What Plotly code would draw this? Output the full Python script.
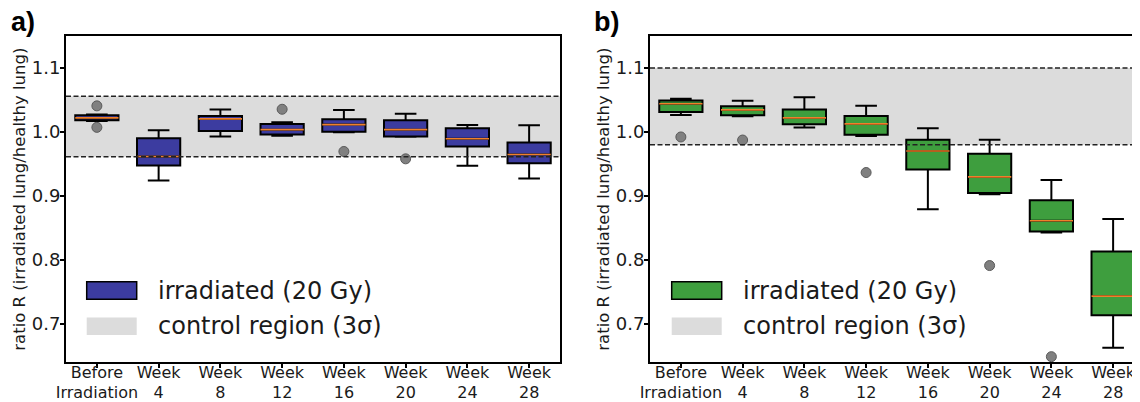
import plotly.graph_objects as go

# page body has an 8px margin, so the figure is sized to fit the window
OFF = 8
W, H = 1140 - OFF, 402 - OFF

# ---------------- data ----------------
categories = ["Before<br>Irradiation", "Week<br>4", "Week<br>8", "Week<br>12",
              "Week<br>16", "Week<br>20", "Week<br>24", "Week<br>28"]
positions = [0, 1, 2, 3, 4, 5, 6, 7]

# panel a (blue)
a_q1 = [1.0182, 0.9476, 1.0016, 0.9962, 1.0005, 0.9931, 0.9774, 0.9513]
a_median = [1.0220, 0.9617, 1.0204, 1.0036, 1.0115, 1.0036, 0.9895, 0.9648]
a_q3 = [1.0261, 0.9900, 1.0251, 1.0126, 1.0198, 1.0182, 1.0057, 0.9837]
a_low = [1.0173, 0.9240, 0.9931, 0.9942, 0.9994, 0.9926, 0.9471, 0.9272]
a_high = [1.0272, 1.0025, 1.0350, 1.0151, 1.0345, 1.0283, 1.0110, 1.0104]
a_out_x = [0, 0, 3, 4, 5]
a_out_y = [1.0408, 1.0072, 1.0355, 0.9695, 0.9580]
a_band = [0.9612, 1.0559]

# panel b (green)
b_q1 = [1.0314, 1.0261, 1.0119, 0.9958, 0.9413, 0.9047, 0.8446, 0.7137]
b_median = [1.0440, 1.0345, 1.0220, 1.0126, 0.9702, 0.9298, 0.8612, 0.7435]
b_q3 = [1.0491, 1.0402, 1.0350, 1.0251, 0.9879, 0.9659, 0.8933, 0.8132]
b_low = [1.0267, 1.0245, 1.0068, 0.9937, 0.8791, 0.9027, 0.8430, 0.6629]
b_high = [1.0518, 1.0487, 1.0543, 1.0408, 1.0057, 0.9879, 0.9251, 0.8639]
b_out_x = [0, 1, 3, 5, 6]
b_out_y = [0.9922, 0.9874, 0.9366, 0.7912, 0.6488]
b_band = [0.9801, 1.0998]

y_ticks = [0.7, 0.8, 0.9, 1.0, 1.1]
y_ticktext = ["0.7", "0.8", "0.9", "1.0", "1.1"]
legend_labels = ["irradiated (20 Gy)", "control region (3σ)"]
panel_labels = ["a)", "b)"]
y_title = "ratio R (irradiated lung/healthy lung)"

# ---------------- styles ----------------
FONT = "DejaVu Sans"
TXT = "#1a1a1a"
BLUE = "#3c3ca0"
GREEN = "#3e9e3e"
BAND = "#dcdcdc"
MED = "#f0802a"


def fx(px):
    return (px - OFF) / W


def fy(py):
    return 1 - (py - OFF) / H


fig = go.Figure()


def add_panel(xa, ya, q1, med, q3, lo, hi, ox, oy, color):
    fig.add_trace(go.Box(
        x=positions, q1=q1, median=med, q3=q3, lowerfence=lo, upperfence=hi,
        width=0.7, whiskerwidth=0.5, fillcolor=color,
        line=dict(color="black", width=2), boxpoints=False,
        xaxis=xa, yaxis=ya, showlegend=False))
    fig.add_trace(go.Box(
        x=positions, q1=med, median=med, q3=med, lowerfence=med, upperfence=med,
        width=0.7, whiskerwidth=0, fillcolor="rgba(0,0,0,0)",
        line=dict(color=MED, width=1.6), boxpoints=False, hoverinfo="skip",
        xaxis=xa, yaxis=ya, showlegend=False))
    fig.add_trace(go.Scatter(
        x=ox, y=oy, mode="markers",
        marker=dict(size=10, color="#808080", line=dict(color="#5a5a5a", width=1)),
        xaxis=xa, yaxis=ya, showlegend=False))


add_panel("x", "y", a_q1, a_median, a_q3, a_low, a_high, a_out_x, a_out_y, BLUE)
add_panel("x2", "y2", b_q1, b_median, b_q3, b_low, b_high, b_out_x, b_out_y, GREEN)

# control bands and dashed limits
for xr, yr, band in (("x domain", "y", a_band), ("x2 domain", "y2", b_band)):
    fig.add_shape(type="rect", xref=xr, yref=yr, x0=0, x1=1, y0=band[0], y1=band[1],
                  fillcolor=BAND, line=dict(width=0), layer="below")
    for v in band:
        fig.add_shape(type="line", xref=xr, yref=yr, x0=0, x1=1, y0=v, y1=v,
                      line=dict(color="#222", width=1.5, dash="5px,2.5px"), layer="above")

y_dom = [fy(362.3), fy(36)]
axis_common = dict(showline=True, linewidth=2, linecolor="black", showgrid=False,
                   zeroline=False, ticks="outside", ticklen=4, tickwidth=1.5,
                   tickcolor="black", automargin=False)
xcommon = dict(axis_common, tickvals=positions, ticktext=categories, tickangle=0,
               tickfont=dict(family=FONT, size=16, color=TXT), mirror=True,
               ticklabelstandoff=-10)
ycommon = dict(axis_common, tickvals=y_ticks, ticktext=y_ticktext, range=[0.64, 1.15],
               tickfont=dict(family=FONT, size=18, color=TXT), domain=y_dom,
               ticklabelstandoff=-4,
               title=dict(text=y_title, font=dict(family=FONT, size=16.5, color=TXT), standoff=2))

fig.update_layout(
    width=W, height=H, margin=dict(l=0, r=0, t=0, b=0),
    paper_bgcolor="white", plot_bgcolor="white", showlegend=False, boxmode="overlay",
    xaxis=dict(xcommon, domain=[fx(66), fx(560)], range=[-0.5, 7.5], anchor="y"),
    yaxis=dict(ycommon, anchor="x", mirror=True),
    xaxis2=dict(xcommon, domain=[fx(650), 1.0], range=[-0.5, 7.5 - 4 / 61.75], anchor="y2"),
    yaxis2=dict(ycommon, anchor="x2", mirror=False),
)

# manual legends
for x0, col in ((86.7, BLUE), (671.7, GREEN)):
    fig.add_shape(type="rect", xref="paper", yref="paper", x0=fx(x0), x1=fx(x0 + 50),
                  y0=fy(299.3), y1=fy(281.7), fillcolor=col,
                  line=dict(color="black", width=1.5))
    fig.add_shape(type="rect", xref="paper", yref="paper", x0=fx(x0), x1=fx(x0 + 50),
                  y0=fy(335), y1=fy(317.5), fillcolor=BAND, line=dict(width=0))
    for lab, yc in zip(legend_labels, (290.5, 326.3)):
        fig.add_annotation(text=lab, xref="paper", yref="paper", x=fx(x0 + 69), y=fy(yc),
                           xanchor="left", yanchor="middle", showarrow=False,
                           font=dict(family=FONT, size=24, color=TXT))

for lab, xc in zip(panel_labels, (23, 606)):
    fig.add_annotation(text="<b>" + lab + "</b>", xref="paper", yref="paper",
                       x=fx(xc), y=fy(22), xanchor="center", yanchor="middle",
                       showarrow=False, font=dict(family="Liberation Sans", size=27, color="black"))

fig.write_html("out.html")
